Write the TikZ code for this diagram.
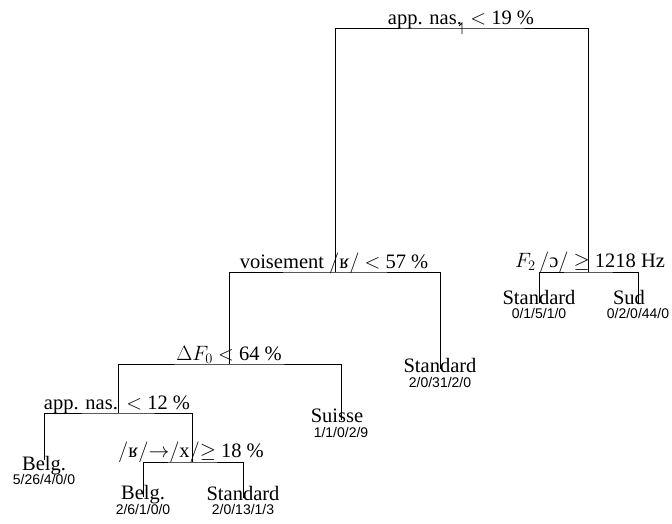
\documentclass[tikz,border=0pt]{standalone}
\usepackage[no-math]{fontspec}
\setmainfont{Liberation Serif}
\newfontfamily\cntfont{Liberation Sans}
\newcommand{\msl}{$/$}
\begin{document}
\begin{tikzpicture}[x=1pt,y=-1pt,
  lbl/.style={anchor=base, inner sep=0pt, font=\fontsize{20.5}{24}\selectfont},
  cnt/.style={anchor=base, inner sep=0pt, font=\cntfont\fontsize{14}{16}\selectfont},
  branch/.style={line width=0.75pt, black}]
\useasboundingbox (0,0) rectangle (672,523);
% split points
\coordinate (r) at (462,28);
\coordinate (v) at (335,272);
\coordinate (f) at (588,272);
\coordinate (d) at (229,364);
\coordinate (a) at (118,413);
\coordinate (x) at (192,462);
% leaf ends
\coordinate (l1) at (539,303);
\coordinate (l2) at (638,303);
\coordinate (s1) at (440,369);
\coordinate (su) at (341,420);
\coordinate (b1) at (44,460);
\coordinate (b2) at (143,497);
\coordinate (st) at (243,498);
\coordinate (rtop) at (462,23);
\coordinate (rbot) at (462,34);
\coordinate (rflag) at (459,26);
% branches
\draw[branch] (rflag) -- (rtop) -- (rbot);
\draw[branch] (v) |- (r) -| (f);
\draw[branch] (d) |- (v) -| (s1);
\draw[branch] (l1) |- (f) -| (l2);
\draw[branch] (a) |- (d) -| (su);
\draw[branch] (b1) |- (a) -| (x);
\draw[branch] (b2) |- (x) -| (st);
% split labels
\node[lbl] (tr) at (461,24) {app. nas.\ \,$<$ 19 \%};
\node[lbl] (tv) at (334,268) {voisement\ \msl ʁ\msl\ $<$\ 57 \%};
\node[lbl] (tf) at (590,267) {$F_2$\,\msl ɔ\msl\ $\geq$\ 1218 Hz};
\node[lbl] (td) at (229,360) {$\Delta F_0$ $<$ 64 \%};
\node[lbl] (ta) at (117,409) {app. nas.\ \,$<$ 12 \%};
\node[lbl] (tx) at (191,457) {\msl ʁ\msl$\rightarrow$\msl x\msl$\geq$ 18 \%};
% leaves
\node[lbl] (tl1) at (539,304) {Standard};
\node[cnt] (cl1) at (539,318) {0/1/5/1/0};
\node[lbl] (tl2) at (629,304) {Sud};
\node[cnt] (cl2) at (638,318) {0/2/0/44/0};
\node[lbl] (ts1) at (440,372) {Standard};
\node[cnt] (cs1) at (440,387) {2/0/31/2/0};
\node[lbl] (tsu) at (337,422) {Suisse};
\node[cnt] (csu) at (341,437) {1/1/0/2/9};
\node[lbl] (tb1) at (44,470) {Belg.};
\node[cnt] (cb1) at (44,484) {5/26/4/0/0};
\node[lbl] (tb2) at (143,499) {Belg.};
\node[cnt] (cb2) at (143,514) {2/6/1/0/0};
\node[lbl] (tst) at (243,500) {Standard};
\node[cnt] (cst) at (243,514) {2/0/13/1/3};
\end{tikzpicture}
\end{document}
